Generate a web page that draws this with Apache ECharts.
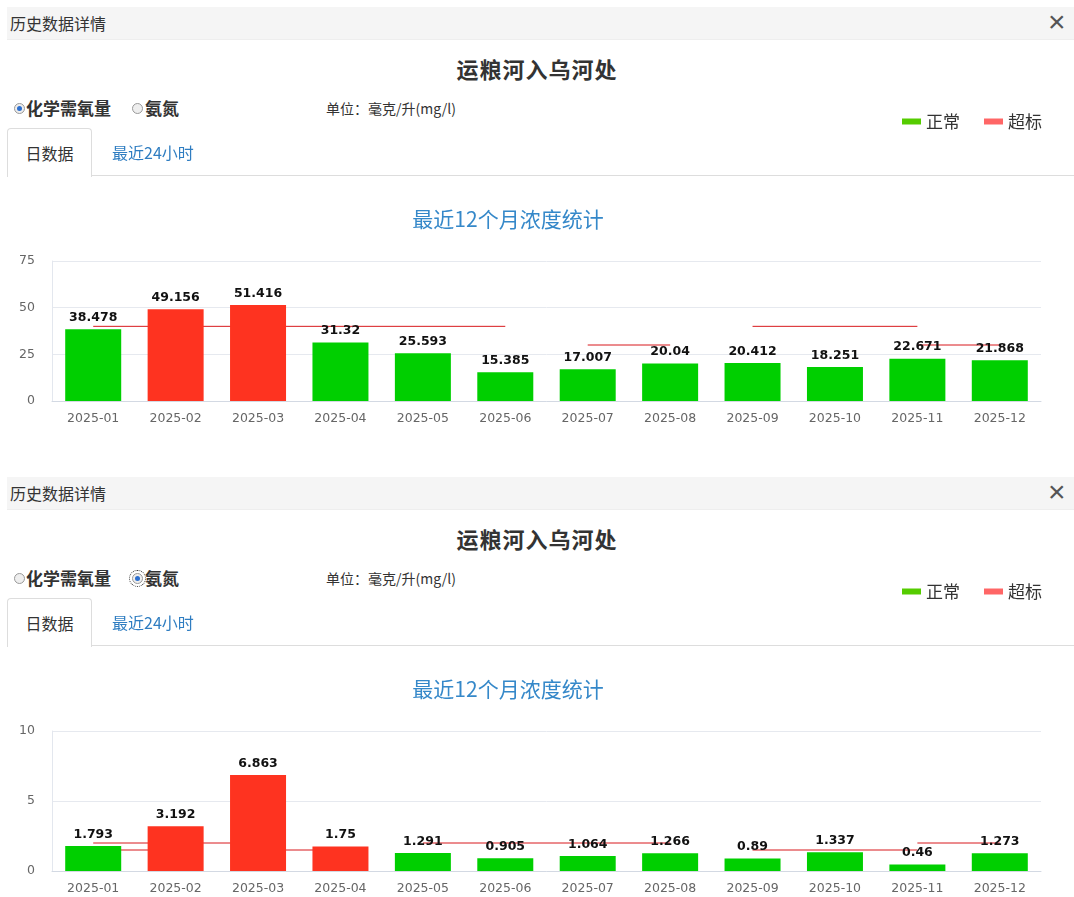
<!DOCTYPE html>
<html>
<head>
<meta charset="utf-8">
<title>历史数据详情</title>
<script src="https://cdn.jsdelivr.net/npm/echarts@6/dist/echarts.min.js"></script>
<style>
  html, body {margin: 0; padding: 0; background: #fff; overflow: hidden;}
  body {width: 1074px; height: 897px; position: relative; font-family: "Noto Sans CJK SC", sans-serif; color: #333;}
  .panel {position: absolute; left: 0; width: 1074px; height: 470px;}
  .hd {position: absolute; left: 7px; top: 7px; width: 1067px; height: 32px; background: #f5f5f5;
       border-bottom: 1px solid #eee; font-size: 16px; line-height: 32px; text-indent: 3px;}
  .close {position: absolute; left: 1048px; top: 6px; font-size: 30px; line-height: 32px; color: #555;
          font-family: "Liberation Sans";}
  .title {position: absolute; left: 0; width: 1074px; top: 52px; text-align: center; font-size: 22px;
          font-weight: bold; letter-spacing: 1px; line-height: 32px;}
  .radio {position: absolute; top: 103px; width: 9px; height: 9px; border: 1px solid #999; border-radius: 50%;
          background: #eee;}
  .radio.on::after {content: ''; position: absolute; left: 2px; top: 2px; width: 5px; height: 5px;
          border-radius: 50%; background: #2c6fcf;}
  .radio.focus {outline: 1px dotted #333; outline-offset: 2px;}
  .rlabel {position: absolute; top: 96px; font-size: 17px; font-weight: bold; line-height: 24px;}
  .unit {position: absolute; left: 326px; top: 98px; font-size: 14px; line-height: 20px;}
  .tab {position: absolute; left: 7px; top: 128px; width: 83px; height: 48px; border: 1px solid #ddd;
        border-bottom: none; border-radius: 4px 4px 0 0; background: #fff; z-index: 3;
        font-size: 16px; line-height: 48px; text-align: center;}
  .tab2 {position: absolute; left: 112px; top: 140px; font-size: 16px; line-height: 24px; color: #2f7dc1; z-index: 3;}
  .tabline {position: absolute; left: 91px; right: 0; top: 175px; height: 1px; background: #ddd; z-index: 2;}
  .chart {position: absolute; left: 0; top: 100px; width: 1074px; height: 340px; z-index: 1;}
</style>
</head>
<body>
<div class="panel" style="top:0">
  <div class="hd">历史数据详情</div>
  <div class="close">×</div>
  <div class="title">运粮河入乌河处</div>
  <div class="radio on" style="left:14px"></div><div class="rlabel" style="left:26px">化学需氧量</div>
  <div class="radio" style="left:132px"></div><div class="rlabel" style="left:145px">氨氮</div>
  <div class="unit">单位：毫克/升(mg/l)</div>
  <div class="tab">日数据</div>
  <div class="tab2">最近24小时</div>
  <div class="tabline"></div>
  <div class="chart" id="codChart"></div>
</div>
<div class="panel" style="top:470px">
  <div class="hd">历史数据详情</div>
  <div class="close">×</div>
  <div class="title">运粮河入乌河处</div>
  <div class="radio" style="left:14px"></div><div class="rlabel" style="left:26px">化学需氧量</div>
  <div class="radio on focus" style="left:132px"></div><div class="rlabel" style="left:145px">氨氮</div>
  <div class="unit">单位：毫克/升(mg/l)</div>
  <div class="tab">日数据</div>
  <div class="tab2">最近24小时</div>
  <div class="tabline"></div>
  <div class="chart" id="nh3Chart"></div>
</div>
<script>
function $(id) {return document.getElementById(id)}

var months = ['2025-01', '2025-02', '2025-03', '2025-04', '2025-05', '2025-06',
              '2025-07', '2025-08', '2025-09', '2025-10', '2025-11', '2025-12'];

// 化学需氧量
var codValues = [38.478, 49.156, 51.416, 31.32, 25.593, 15.385, 17.007, 20.04, 20.412, 18.251, 22.671, 21.868];
var codOver = [false, true, true, false, false, false, false, false, false, false, false, false];
var codTicks = [0, 25, 50, 75];
// standard line pieces: [from month, to month, value]
var codStandard = [
  ['2025-01', '2025-06', 40],
  ['2025-07', '2025-08', 30],
  ['2025-09', '2025-11', 40],
  ['2025-11', '2025-12', 30]
];

// 氨氮
var nh3Values = [1.793, 3.192, 6.863, 1.75, 1.291, 0.905, 1.064, 1.266, 0.89, 1.337, 0.46, 1.273];
var nh3Over = [false, true, true, true, false, false, false, false, false, false, false, false];
var nh3Ticks = [0, 5, 10];
var nh3Standard = [
  ['2025-01', '2025-03', 2],
  ['2025-01', '2025-02', 1.5],
  ['2025-03', '2025-04', 1.5],
  ['2025-05', '2025-08', 2],
  ['2025-09', '2025-11', 1.5],
  ['2025-11', '2025-12', 2]
];

var barLabel = {
  show: true,
  position: 'top',
  distance: 5,
  color: '#111',
  fontFamily: 'DejaVu Sans',
  fontWeight: 'bold',
  fontSize: 12.5
};

function makeOption(values, over, ticks, standard) {
  var normal = values.map(function (v, i) { return over[i] ? '-' : v; });
  var exceed = values.map(function (v, i) { return over[i] ? v : '-'; });
  var lines = standard.map(function (s) {
    return {
      type: 'line',
      silent: true,
      symbol: 'none',
      z: 1,
      lineStyle: {color: '#d8191c', width: 1},
      data: [[s[0], s[2]], [s[1], s[2]]]
    };
  });
  return {
    animation: false,
    title: {
      text: '最近12个月浓度统计',
      left: 503,
      textAlign: 'center',
      top: 104,
      textStyle: {color: '#3588c9', fontSize: 21, fontWeight: 'normal', fontFamily: 'Noto Sans CJK SC'}
    },
    legend: {
      data: [
        {name: '正常', itemStyle: {color: '#55cc00'}},
        {name: '超标', itemStyle: {color: '#ff6666'}}
      ],
      right: 32,
      top: 13,
      padding: 0,
      icon: 'rect',
      itemWidth: 19,
      itemHeight: 6,
      itemGap: 24,
      textStyle: {color: '#333', fontSize: 17, fontFamily: 'Noto Sans CJK SC'}
    },
    grid: {left: 52, right: 33, top: 161, bottom: 39},
    xAxis: {
      type: 'category',
      data: months,
      axisLine: {lineStyle: {color: '#d3d9e3'}},
      axisTick: {length: 9, lineStyle: {color: '#d3d9e3'}},
      axisLabel: {color: '#666', fontSize: 12.5, fontFamily: 'DejaVu Sans', margin: 11}
    },
    yAxis: {
      type: 'value',
      min: ticks[0],
      max: ticks[ticks.length - 1],
      interval: ticks[1] - ticks[0],
      axisLine: {show: true, lineStyle: {color: '#e3e7ee'}},
      axisTick: {show: false},
      axisLabel: {color: '#666', fontSize: 12.5, fontFamily: 'DejaVu Sans', margin: 17},
      splitLine: {lineStyle: {color: '#e6e9ef'}}
    },
    series: lines.concat([
      {
        name: '正常',
        type: 'bar',
        stack: 'status',
        barWidth: 56,
        z: 2,
        itemStyle: {color: '#00cf00'},
        label: barLabel,
        data: normal
      },
      {
        name: '超标',
        type: 'bar',
        stack: 'status',
        barWidth: 56,
        z: 2,
        itemStyle: {color: '#fe3320'},
        label: barLabel,
        data: exceed
      }
    ])
  };
}

var codChart = echarts.init($('codChart'));
codChart.setOption(makeOption(codValues, codOver, codTicks, codStandard));

var nh3Chart = echarts.init($('nh3Chart'));
nh3Chart.setOption(makeOption(nh3Values, nh3Over, nh3Ticks, nh3Standard));
</script>
</body>
</html>
